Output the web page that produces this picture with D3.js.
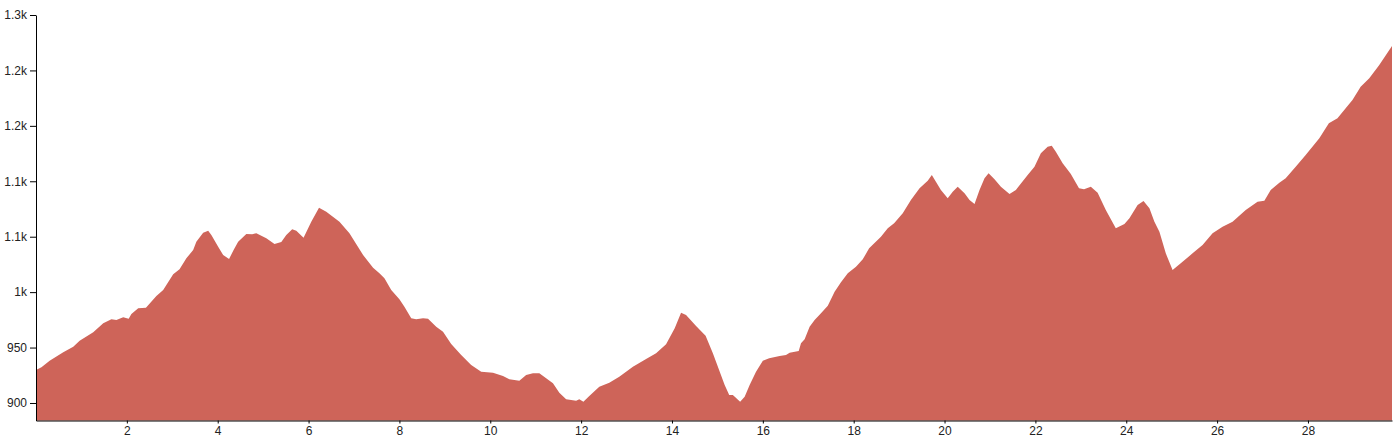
<!DOCTYPE html>
<html>
<head>
<meta charset="utf-8">
<script src="https://cdn.jsdelivr.net/npm/d3@7"></script>
<style>
  html, body { margin: 0; padding: 0; background: #fff; }
  svg { display: block; }
  .tick text { font-family: "Liberation Sans", Arial, sans-serif; font-size: 12px; fill: #222; }
</style>
</head>
<body>
<svg id="chart" width="1397" height="438"></svg>
<script>
// Distance along the route (km)
const distanceKm = [
  0.00, 0.12, 0.30, 0.60, 0.82, 0.96, 1.26, 1.48, 1.66, 1.77,
  1.92, 2.04, 2.10, 2.25, 2.42, 2.65, 2.80, 3.02, 3.16, 3.31,
  3.46, 3.53, 3.68, 3.79, 3.86, 4.01, 4.12, 4.25, 4.35, 4.45,
  4.63, 4.76, 4.85, 5.07, 5.25, 5.40, 5.51, 5.64, 5.73, 5.89,
  6.06, 6.23, 6.39, 6.68, 6.90, 7.20, 7.42, 7.56, 7.67, 7.82,
  8.00, 8.11, 8.26, 8.37, 8.52, 8.63, 8.81, 8.96, 9.14, 9.36,
  9.58, 9.80, 10.06, 10.28, 10.42, 10.64, 10.79, 10.94, 11.08, 11.23,
  11.38, 11.52, 11.67, 11.89, 11.96, 12.05, 12.18, 12.40, 12.62, 12.84,
  13.14, 13.43, 13.65, 13.87, 14.06, 14.20, 14.31, 14.53, 14.74, 14.90,
  15.16, 15.26, 15.34, 15.50, 15.60, 15.71, 15.85, 16.00, 16.14, 16.37,
  16.51, 16.59, 16.79, 16.84, 16.92, 17.03, 17.14, 17.28, 17.43, 17.58,
  17.72, 17.87, 18.05, 18.20, 18.34, 18.60, 18.75, 18.89, 19.08, 19.26,
  19.45, 19.63, 19.72, 19.81, 19.92, 20.07, 20.18, 20.29, 20.44, 20.55,
  20.66, 20.77, 20.88, 20.97, 21.10, 21.24, 21.43, 21.57, 21.83, 21.98,
  22.12, 22.27, 22.36, 22.45, 22.60, 22.78, 22.96, 23.07, 23.22, 23.37,
  23.55, 23.77, 23.96, 24.07, 24.25, 24.38, 24.51, 24.62, 24.73, 24.87,
  25.02, 25.20, 25.46, 25.68, 25.90, 26.12, 26.34, 26.63, 26.89, 27.04,
  27.18, 27.37, 27.51, 27.73, 27.95, 28.25, 28.46, 28.65, 28.83, 28.98,
  29.16, 29.35, 29.57, 29.85
];

// Elevation (m)
const elevationM = [
  929.8, 932.2, 938.1, 945.7, 950.8, 956.2, 963.8, 971.9, 975.5, 974.9,
  977.3, 976.0, 980.3, 985.4, 986.0, 996.5, 1001.9, 1016.1, 1020.6, 1030.5,
  1038.0, 1045.5, 1053.6, 1055.4, 1051.5, 1041.0, 1033.5, 1029.9, 1038.0, 1045.5,
  1052.4, 1052.2, 1053.1, 1048.6, 1043.4, 1045.2, 1051.5, 1056.7, 1055.4, 1049.1,
  1063.5, 1076.2, 1072.6, 1063.5, 1053.1, 1033.5, 1022.0, 1017.0, 1012.5, 1001.9,
  993.5, 986.9, 976.4, 975.5, 976.4, 976.0, 968.8, 964.3, 953.2, 943.3,
  934.3, 928.2, 927.3, 924.3, 921.4, 920.1, 925.2, 926.8, 926.8, 922.3,
  917.8, 909.3, 903.3, 902.1, 903.3, 901.2, 906.3, 914.7, 918.3, 923.7,
  932.7, 939.7, 944.8, 952.9, 967.4, 981.4, 979.4, 969.4, 960.7, 944.8,
  916.2, 907.2, 907.2, 901.2, 905.7, 916.2, 928.2, 938.1, 940.3, 942.4,
  943.3, 945.4, 946.9, 953.8, 957.5, 968.8, 974.9, 980.9, 987.8, 1000.4,
  1008.9, 1017.0, 1022.9, 1029.6, 1039.5, 1050.0, 1057.6, 1062.1, 1071.1, 1083.1,
  1093.7, 1100.5, 1105.7, 1099.6, 1092.1, 1084.6, 1090.6, 1095.1, 1089.2, 1083.1,
  1079.5, 1092.1, 1102.7, 1107.2, 1101.8, 1095.1, 1088.5, 1092.1, 1105.7, 1113.2,
  1125.2, 1131.2, 1132.1, 1126.7, 1116.2, 1106.6, 1093.7, 1092.8, 1095.1, 1089.7,
  1074.1, 1057.6, 1061.5, 1066.6, 1078.6, 1082.2, 1075.6, 1063.5, 1054.5, 1035.0,
  1020.0, 1026.0, 1035.0, 1042.5, 1053.1, 1059.0, 1063.5, 1074.1, 1081.6, 1082.5,
  1092.1, 1098.7, 1102.7, 1113.2, 1123.7, 1138.8, 1152.3, 1156.8, 1165.8, 1173.3,
  1185.3, 1192.9, 1204.9, 1222.0
];

// Axis tick values
const xTickValues = [2, 4, 6, 8, 10, 12, 14, 16, 18, 20, 22, 24, 26, 28];
const yTickValues = [900, 950, 1000, 1050, 1100, 1150, 1200, 1250];
const yDomain = [884.2, 1250];
const xDomain = [0, 29.85];

const margin = { top: 15, right: 5, bottom: 17.5, left: 36 };
const W = 1397, H = 438;
const innerW = 1356, innerH = 405.5;

const data = distanceKm.map((d, i) => ({ x: d, y: elevationM[i] }));

const svg = d3.select("#chart");
const g = svg.append("g").attr("transform", `translate(${margin.left},${margin.top})`);

const x = d3.scaleLinear().domain(xDomain).range([0, innerW]);
const y = d3.scaleLinear().domain(yDomain).range([innerH, 0]);

const area = d3.area()
  .x(d => x(d.x))
  .y0(innerH)
  .y1(d => y(d.y));

g.append("path")
  .datum(data)
  .attr("fill", "#ce6459")
  .attr("d", area);

g.append("g")
  .attr("transform", `translate(0,${innerH})`)
  .call(d3.axisBottom(x).tickValues(xTickValues).tickSize(3).tickSizeOuter(0).tickFormat(d3.format("d")));

g.append("g")
  .call(d3.axisLeft(y).tickValues(yTickValues).tickSizeOuter(0).tickFormat(d3.format(".2~s")));
</script>
</body>
</html>
